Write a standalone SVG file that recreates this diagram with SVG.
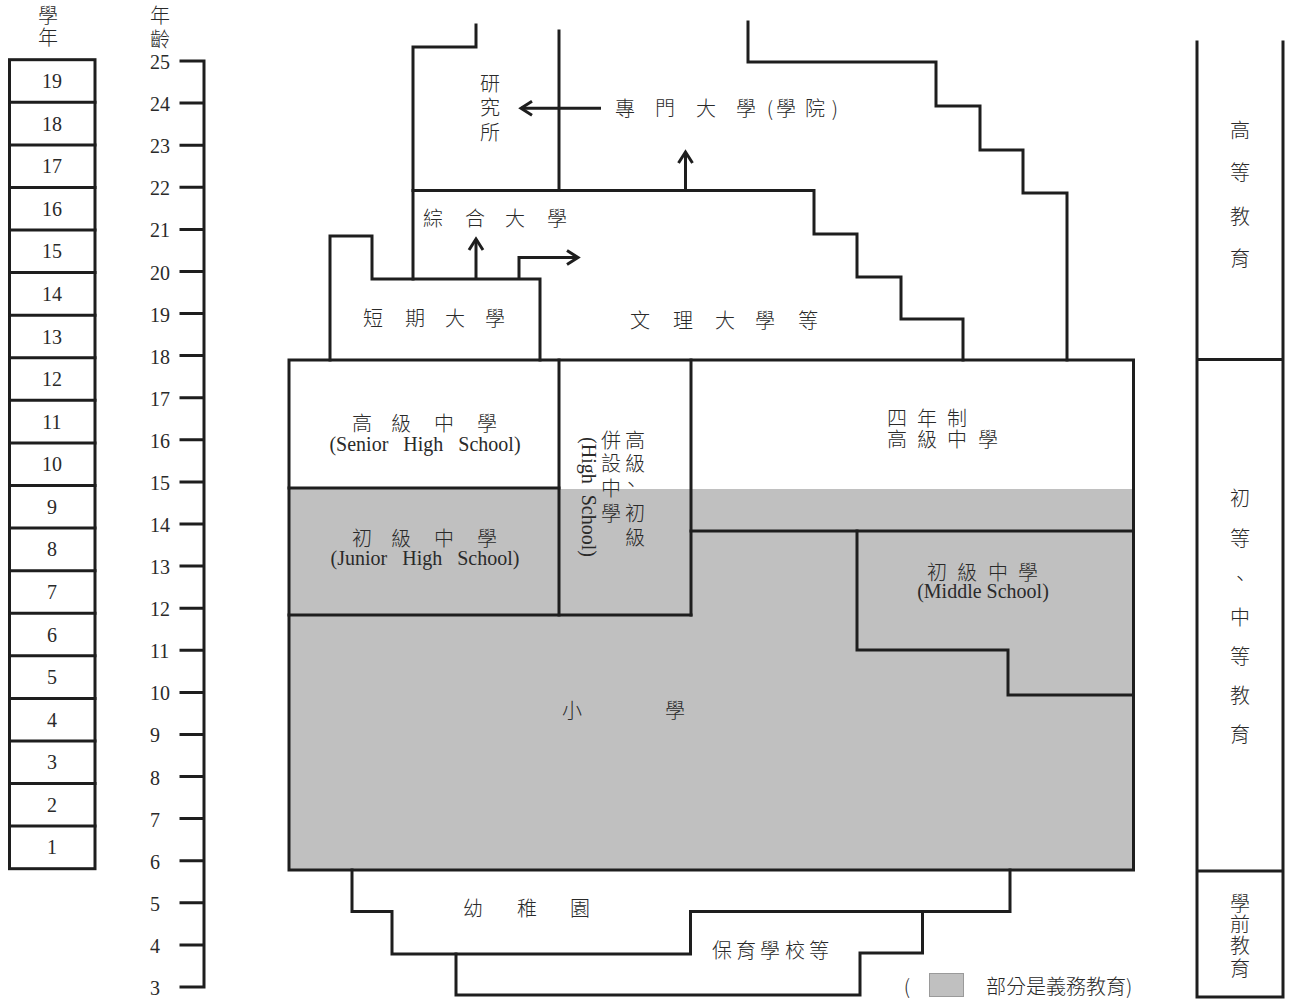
<svg xmlns="http://www.w3.org/2000/svg" width="1290" height="1001" viewBox="0 0 1290 1001">
<style>
.ln{fill:none;stroke:#1e1e1e;stroke-width:3;stroke-linejoin:miter;stroke-linecap:square}
.cj{font-family:"Noto Sans CJK TC","Noto Sans CJK JP",sans-serif;font-size:20px;font-weight:300;fill:#2a2a2a;text-anchor:middle}
.sr{font-family:"Liberation Serif",serif;font-size:20px;fill:#2a2a2a}
.mid{text-anchor:middle}
.grey{fill:#c0c0c0}
</style>
<defs>
<marker id="arr" viewBox="-14 -10 20 20" refX="0" refY="0" markerWidth="20" markerHeight="20" markerUnits="userSpaceOnUse" orient="auto" overflow="visible">
<path d="M-11,-7 L0,0 L-11,7" fill="none" stroke="#1e1e1e" stroke-width="3"/>
</marker>
</defs>
<rect width="1290" height="1001" fill="#ffffff"/>

<g id="grade-column">
<text class="cj" x="48 48" y="23 45" font-size="18">學年</text>
<rect class="ln" x="9.5" y="59.7" width="85.5" height="809"/>
<path class="ln" d="M9.5,102.3H95M9.5,144.9H95M9.5,187.4H95M9.5,230H95M9.5,272.6H95M9.5,315.2H95M9.5,357.8H95M9.5,400.3H95M9.5,442.9H95M9.5,485.5H95M9.5,528.1H95M9.5,570.7H95M9.5,613.2H95M9.5,655.8H95M9.5,698.4H95M9.5,741H95M9.5,783.6H95M9.5,826.1H95"/>
<g class="sr mid">
<text x="52" y="88">19</text><text x="52" y="130.6">18</text><text x="52" y="173.2">17</text><text x="52" y="215.7">16</text><text x="52" y="258.3">15</text><text x="52" y="300.9">14</text><text x="52" y="343.5">13</text><text x="52" y="386.1">12</text><text x="52" y="428.6">11</text><text x="52" y="471.2">10</text><text x="52" y="513.8">9</text><text x="52" y="556.4">8</text><text x="52" y="599">7</text><text x="52" y="641.5">6</text><text x="52" y="684.1">5</text><text x="52" y="726.7">4</text><text x="52" y="769.3">3</text><text x="52" y="811.9">2</text><text x="52" y="854.4">1</text>
</g>
</g>

<g id="age-axis">
<text class="cj" x="160 160" y="23 47" font-size="18">年齡</text>
<path class="ln" d="M204,61V987M181,61H204M181,103.1H204M181,145.2H204M181,187.3H204M181,229.4H204M181,271.5H204M181,313.5H204M181,355.6H204M181,397.7H204M181,439.8H204M181,481.9H204M181,524H204M181,566.1H204M181,608.2H204M181,650.3H204M181,692.4H204M181,734.4H204M181,776.5H204M181,818.6H204M181,860.7H204M181,902.8H204M181,944.9H204M181,987H204"/>
<g class="sr">
<text x="150" y="69">25</text><text x="150" y="111.1">24</text><text x="150" y="153.2">23</text><text x="150" y="195.3">22</text><text x="150" y="237.4">21</text><text x="150" y="279.5">20</text><text x="150" y="321.5">19</text><text x="150" y="363.6">18</text><text x="150" y="405.7">17</text><text x="150" y="447.8">16</text><text x="150" y="489.9">15</text><text x="150" y="532">14</text><text x="150" y="574.1">13</text><text x="150" y="616.2">12</text><text x="150" y="658.3">11</text><text x="150" y="700.4">10</text><text x="150" y="742.4">9</text><text x="150" y="784.5">8</text><text x="150" y="826.6">7</text><text x="150" y="868.7">6</text><text x="150" y="910.8">5</text><text x="150" y="952.9">4</text><text x="150" y="995">3</text>
</g>
</g>

<g id="stage-column">
<path class="ln" d="M1197,42V997H1283V42M1197,359.5H1283M1197,871H1283"/>
<text class="cj" x="1240 1240 1240 1240" y="137.5 179.5 223.5 265.5">高等教育</text>
<text class="cj" x="1240 1240 1240 1240 1240 1240 1240" y="505.5 545.5 585.5 624.5 663.5 702.5 741.5">初等、中等教育</text>
<text class="cj" x="1240 1240 1240 1240" y="911 931.5 953 976" font-size="19">學前教育</text>
</g>

<g id="elementary">
<rect class="grey" x="289" y="489" width="845" height="381"/>
<rect class="ln" x="289" y="360" width="844.5" height="510"/>
<text class="cj" x="572 623 675" y="718 718 718">小 學</text>
</g>

<g id="senior-high">
<path class="ln" d="M289,488H559"/>
<text class="cj" x="362 381 401 422 444 465 487" y="431 431 431 431 431 431 431">高 級 中 學</text>
<text class="sr mid" x="425" y="451" word-spacing="10">(Senior High School)</text>
</g>

<g id="junior-high">
<path class="ln" d="M289,615H691"/>
<text class="cj" x="362 381 401 422 444 465 487" y="546 546 546 546 546 546 546">初 級 中 學</text>
<text class="sr mid" x="425" y="565" word-spacing="10">(Junior High School)</text>
</g>

<g id="combined-school">
<path class="ln" d="M559,360V615M691,360V615"/>
<text class="cj" font-size="19" x="635 635 631 635 635" y="448 471 492 521 545">高級、初級</text>
<text class="cj" font-size="19" x="611 611 611 611" y="448 471 496 521">併設中學</text>
<text class="sr mid" transform="translate(582,497) rotate(90)" x="0" y="0" word-spacing="6">(High School)</text>
</g>

<g id="four-year-high">
<path class="ln" d="M691,531H1133"/>
<text class="cj" font-size="19" x="897 927 957" y="426 426 426">四年制</text>
<text class="cj" font-size="19" x="897 927 957 988" y="447 447 447 447">高級中學</text>
</g>

<g id="middle-school">
<path class="ln" d="M857,531V650H1008V695H1131"/>
<text class="cj" x="937 967 998 1028" y="580 580 580 580">初級中學</text>
<text class="sr mid" x="983" y="598" font-size="19">(Middle School)</text>
</g>

<g id="junior-college">
<path class="ln" d="M330,360V236H372V279H540V360"/>
<text class="cj" font-size="21" x="373 394 415 435 455 475 495" y="326 326 326 326 326 326 326">短 期 大 學</text>
</g>

<g id="university">
<path class="ln" d="M413,279V47H476V25"/>
<path class="ln" d="M413,190.5H814V234H857V277H901V319H963V360"/>
<text class="cj" font-size="21" x="433 454 475 495 515 536 557" y="225.5 225.5 225.5 225.5 225.5 225.5 225.5">綜 合 大 學</text>
</g>

<g id="liberal-arts">
<text class="cj" font-size="21" x="640 661 683 704 725 745 765 786 808" y="328 328 328 328 328 328 328 328 328">文 理 大 學 等</text>
</g>

<g id="graduate-school">
<path class="ln" d="M559,31V190"/>
<text class="cj" font-size="21" x="490 490 490" y="91 115 140">研究所</text>
</g>

<g id="professional-univ">
<path class="ln" d="M748,22V62H936V106H980V150H1023V193H1067V360"/>
<text class="cj" font-size="21" x="625 645 665 686 706 726 746 758 770 786 800 815 835" y="116 116 116 116 116 116 116 116 116 116 116 116 116">專 門 大 學 (學 院)</text>
</g>

<g id="kindergarten">
<path class="ln" d="M352,870V911.5H392V954H690.5V911.5H1010V870"/>
<text class="cj" x="473 500 527 553 580" y="915.5 915.5 915.5 915.5 915.5">幼 稚 園</text>
</g>

<g id="nursery">
<path class="ln" d="M456,954V995H860V953H922.5V911.5"/>
<text class="cj" x="722 746 770 795 819" y="957.5 957.5 957.5 957.5 957.5">保育學校等</text>
</g>

<g id="legend">
<text class="cj" x="907" y="994">(</text>
<rect x="929.5" y="973.5" width="34" height="23" fill="#c0c0c0" stroke="#9a9a9a" stroke-width="1"/>
<text class="cj" x="986" y="994" style="text-anchor:start">部分是義務教育)</text>
</g>

<g id="connectors">
<path class="ln" d="M601,108.3H521" marker-end="url(#arr)" style="stroke-linecap:butt"/>
<path class="ln" d="M685.5,190V152" marker-end="url(#arr)" style="stroke-linecap:butt"/>
<path class="ln" d="M476,279V239" marker-end="url(#arr)" style="stroke-linecap:butt"/>
<path class="ln" d="M519,279V257.5H578" marker-end="url(#arr)" style="stroke-linecap:butt"/>
</g>
</svg>
